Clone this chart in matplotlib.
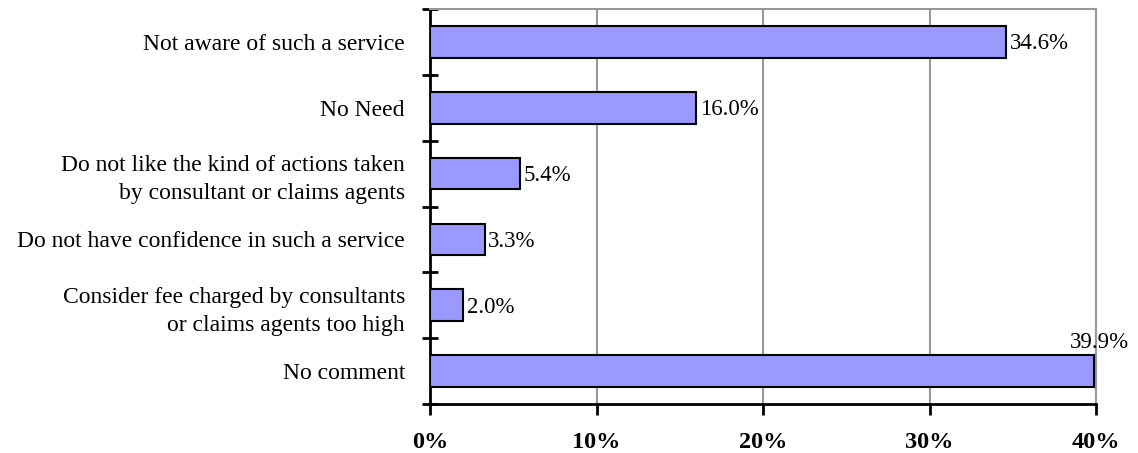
import numpy as np
import matplotlib.pyplot as plt
from matplotlib.ticker import FixedLocator, PercentFormatter

categories = [
    "Not aware of such a service",
    "No Need",
    "Do not like the kind of actions taken\nby consultant or claims agents",
    "Do not have confidence in such a service",
    "Consider fee charged by consultants\nor claims agents too high",
    "No comment",
]
values = [34.6, 16.0, 5.4, 3.3, 2.0, 39.9]
xticks = [0, 10, 20, 30, 40]

plt.rcParams['font.family'] = ['Liberation Serif', 'DejaVu Serif']

fig = plt.figure(figsize=(11.38, 4.53), dpi=100)
ax = fig.add_axes([430 / 1138, 1 - 404 / 453, 666 / 1138, 395 / 453])

y = np.arange(len(categories))
ax.barh(y, values, height=0.48, color='#9999ff', edgecolor='black', linewidth=1.5, zorder=3)

ax.set_xlim(0, 40)
ax.set_ylim(len(categories) - 0.5, -0.5)

ax.set_xticks(xticks)
ax.xaxis.set_major_formatter(PercentFormatter(decimals=0))
ax.tick_params(axis='x', direction='out', length=8, width=2, pad=12, labelsize=17.5)
for lbl in ax.get_xticklabels():
    lbl.set_fontweight('bold')

ax.set_yticks(y)
ax.set_yticklabels(categories, fontsize=17, ha='right', multialignment='right',
                   linespacing=1.45)
ax.tick_params(axis='y', which='major', length=0, pad=18)
ax.yaxis.set_minor_locator(FixedLocator(np.arange(len(categories) + 1) - 0.5))
ax.tick_params(axis='y', which='minor', direction='inout', length=12, width=2)

ax.grid(axis='x', color='#999999', linewidth=1.5, zorder=0)
ax.spines['left'].set_linewidth(2)
ax.spines['bottom'].set_linewidth(2)
ax.spines['top'].set_color('#999999')
ax.spines['right'].set_color('#999999')
ax.spines['top'].set_linewidth(1.5)
ax.spines['right'].set_linewidth(1.5)

for yi, v in zip(y, values):
    if v > 38:
        ax.text(v + 0.3, yi - 0.27, f"{v:.1f}%", ha='center', va='bottom', fontsize=16.5)
    else:
        ax.text(v + 0.2, yi + 0.03, f"{v:.1f}%", ha='left', va='center', fontsize=16.5)

plt.savefig("out.png", dpi=100)
